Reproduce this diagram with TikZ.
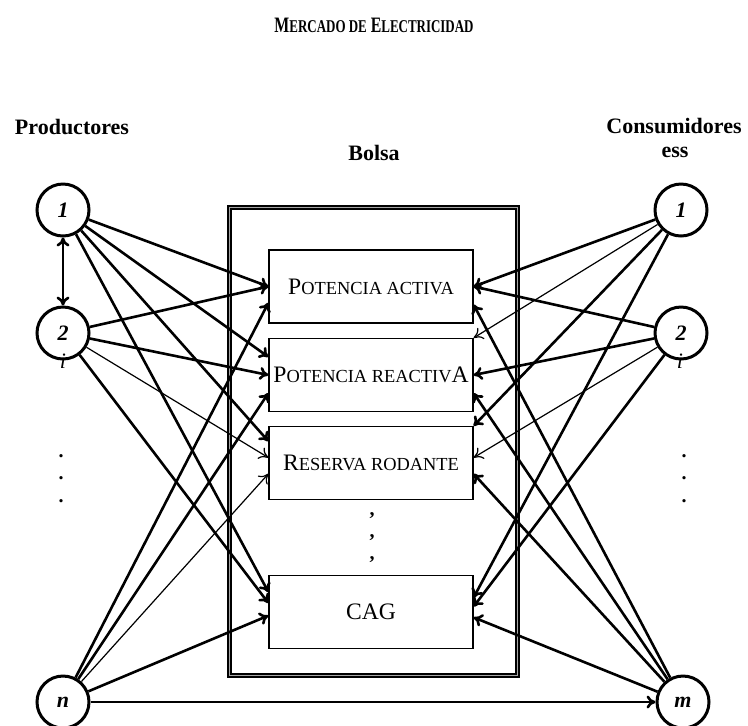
\documentclass[tikz,border=0pt]{standalone}
\usepackage{fontspec}
\setmainfont{Liberation Serif}
\usetikzlibrary{arrows.meta}

\newcommand{\boxsc}[1]{{\fontsize{9.2pt}{11pt}\selectfont #1}}
\newcommand{\titlesc}[1]{{\fontsize{9pt}{10pt}\selectfont #1}}

\begin{document}
\begin{tikzpicture}
[ x=0.5pt, y=-0.5pt
, every node/.style={font=\fontsize{11pt}{13pt}\selectfont\bfseries}
, agent/.style={circle, draw, line width=1.5pt, minimum size=26pt, inner sep=0pt, font=\fontsize{11pt}{13pt}\selectfont\bfseries\itshape}
, service/.style={rectangle, draw, line width=0.6pt, minimum width=102pt, minimum height=36.5pt, inner sep=0pt, font=\fontsize{11.8pt}{14pt}\selectfont}
, market/.style={rectangle, draw, line width=0.8pt, double=gray!70, double distance=0.6pt, minimum width=144pt, minimum height=234pt, inner sep=0pt}
, flow/.style={line width=1.3pt, -{To[length=4.5pt,width=6.5pt]}}
, thinflow/.style={line width=0.6pt, -{To[length=4.5pt,width=6.5pt]}}
, dotmark/.style={inner sep=0pt, font=\fontsize{10pt}{10pt}\selectfont\bfseries}
]

\useasboundingbox (0,0) rectangle (748,725);

\node (title) at (374,25) {\scalebox{0.72}[1]{M\titlesc{ERCADO DE} E\titlesc{LECTRICIDAD}}};

\node (prodlabel) at (72,127) {Productores};
\node (bolsalabel) at (374,153) {Bolsa};
\node (conslabel) at (674,126) {Consumidores};
\node (esslabel) at (675,152) {ess};

\node[market] (bolsa) at (373.5,441.5) {};

\node[service] (pa)  at (371,286.5) {P\boxsc{OTENCIA ACTIVA}};
\node[service] (pr)  at (371,375)   {P\boxsc{OTENCIA REACTIV}A};
\node[service] (rr)  at (371,463)   {R\boxsc{ESERVA RODANTE}};
\node[service] (cag) at (371,612)   {CAG};

\node[dotmark] (mdot1) at (372,516) {,};
\node[dotmark] (mdot2) at (372,538) {,};
\node[dotmark] (mdot3) at (372,560) {,};

\node[agent] (p1) at (63,210) {1};
\node[agent] (p2) at (63,333) {2};
\node[agent] (pn) at (63,702) {n};
\node[agent] (c1) at (681,210) {1};
\node[agent] (c2) at (681,333) {2};
\node[agent] (cm) at (683,702) {m};

\node[font=\fontsize{11pt}{13pt}\selectfont\itshape] (p2i) at (63,361) {i};
\node[font=\fontsize{11pt}{13pt}\selectfont\itshape] (c2i) at (680,361) {i};

\node[dotmark] (ldot1) at (61,456) {.};
\node[dotmark] (ldot2) at (61,478) {.};
\node[dotmark] (ldot3) at (61,501) {.};
\node[dotmark] (rdot1) at (684,456) {.};
\node[dotmark] (rdot2) at (684,478) {.};
\node[dotmark] (rdot3) at (684,501) {.};

% productores
\draw[line width=1.3pt, {To[length=4.5pt,width=6.5pt]}-{To[length=4.5pt,width=6.5pt]}] (p1) -- (p2);
\draw[flow] (p1) -- (pa.west);
\draw[flow] (p1) -- (pr.170);
\draw[flow] (p1) -- (rr.168);
\draw[flow] (p1) -- (cag.169);
\draw[flow] (p2) -- (pa.west);
\draw[flow] (p2) -- (pr.west);
\draw[thinflow] (p2) -- (rr.177);
\draw[flow] (p2) -- (cag.175);
\draw[flow] (pn) -- (pa.189);
\draw[flow] (pn) -- (pr.190);
\draw[thinflow] (pn) -- (rr.186);
\draw[flow] (pn) -- (cag.182);

% consumidores
\draw[flow] (c1) -- (pa.east);
\draw[thinflow] (c1) -- (pr.north east);
\draw[flow] (c1) -- (rr.north east);
\draw[flow] (c1) -- (cag.8);
\draw[flow] (c2) -- (pa.east);
\draw[flow] (c2) -- (pr.east);
\draw[thinflow] (c2) -- (rr.3);
\draw[flow] (c2) -- (cag.3);
\draw[flow] (cm) -- (pa.350);
\draw[flow] (cm) -- (pr.350);
\draw[flow] (cm) -- (rr.354);
\draw[flow] (cm) -- (cag.357);

\draw[flow] (pn) -- (cm);

\end{tikzpicture}
\end{document}
